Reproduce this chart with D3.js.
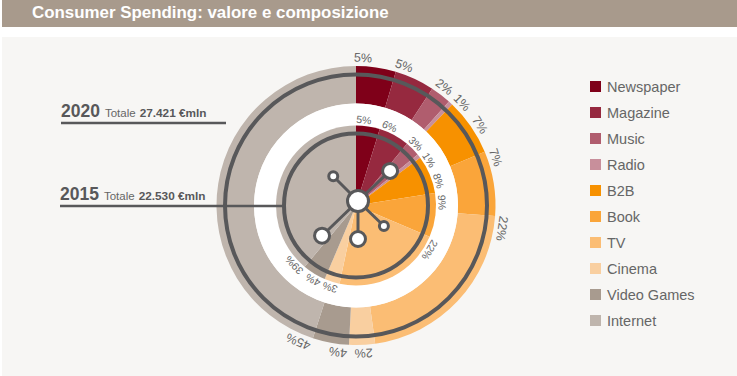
<!DOCTYPE html>
<html>
<head>
<meta charset="utf-8">
<script src="https://cdn.jsdelivr.net/npm/d3@7"></script>
<style>
html, body { margin: 0; padding: 0; background: #fff; }
svg { display: block; font-family: "Liberation Sans", Arial, sans-serif; }
</style>
</head>
<body>
<script>
//Width and height
var w = 737;
var h = 376;

//Data
var categories = ["Newspaper", "Magazine", "Music", "Radio", "B2B", "Book", "TV", "Cinema", "Video Games", "Internet"];
var colors = ["#7f0019", "#96293f", "#b05d6e", "#c88f9b", "#f79100", "#faa53a", "#fbbd74", "#f9cfa0", "#a89b8f", "#bfb5ad"];

//Slice sizes as drawn (they do not follow the printed labels exactly)
var share2020 = [4.6, 4.6, 2.4, 0.5, 6.6, 7.5, 21.6, 3.0, 4.2, 45];
var share2015 = [4.8, 6.2, 3.0, 0.8, 7.7, 8.9, 21.9, 3.1, 4.7, 38.9];

//Printed labels
var labels2020 = ["5%", "5%", "2%", "1%", "7%", "7%", "22%", "2%", "4%", "45%"];
var labels2015 = ["5%", "6%", "3%", "1%", "8%", "9%", "22%", "3%", "4%", "39%"];

//Where the labels sit around the circle, in degrees
var labelAngle2020 = [2.7, 19, 36.6, 45.8, 57, 71, 99, 177, 187, 203];
var labelAngle2015 = [5.3, 23, 44, 58, 73.4, 88, 121, 197.6, 210, 226];

//Spokes of the small hub in the middle
var hubAngle = [-45, 46.8, 134, 180, 226];
var hubDist = [35, 44, 36, 38, 50];
var hubSize = [6, 9, 6, 9, 9];

//Layout
var cx = 356;
var cy = 205.5;
var hubX = 358;
var hubY = 201;
var darkLine = "#58585a";
var textColor = "#666";

//Create SVG element
var svg = d3.select("body")
    .append("svg")
    .attr("width", w)
    .attr("height", h);

//Panel and title bar
svg.append("rect")
    .attr("x", 2).attr("y", 37)
    .attr("width", w - 2).attr("height", h - 37)
    .attr("fill", "#f7f6f4");

svg.append("rect")
    .attr("x", 2).attr("y", 0)
    .attr("width", w - 2).attr("height", 27)
    .attr("fill", "#a89a8c");

svg.append("text")
    .attr("x", 32).attr("y", 18)
    .attr("font-size", 16.9)
    .attr("font-weight", "bold")
    .attr("fill", "#fff")
    .text("Consumer Spending: valore e composizione");

var pie = d3.pie().sort(null).value(function(d) { return d; });

var chart = svg.append("g")
    .attr("transform", "translate(" + cx + "," + cy + ")");

//Outer ring (2020)
var outerArc = d3.arc().innerRadius(102).outerRadius(139.5);
chart.selectAll("path.outer")
    .data(pie(share2020))
    .enter()
    .append("path")
    .attr("class", "outer")
    .attr("d", outerArc)
    .attr("fill", function(d, i) { return colors[i]; });

//White disc between the two years
chart.append("circle").attr("r", 102).attr("fill", "#fff");

//Inner pie (2015)
var innerArc = d3.arc().innerRadius(0).outerRadius(80);
chart.selectAll("path.inner")
    .data(pie(share2015))
    .enter()
    .append("path")
    .attr("class", "inner")
    .attr("d", innerArc)
    .attr("fill", function(d, i) { return colors[i]; });

//Dark rings
[131, 72].forEach(function(r) {
    chart.append("circle")
        .attr("r", r)
        .attr("fill", "none")
        .attr("stroke", darkLine)
        .attr("stroke-width", 4);
});

//Labels around the circles
function drawLabels(labels, angles, radius, size) {
    chart.selectAll(null)
        .data(labels)
        .enter()
        .append("text")
        .attr("transform", function(d, i) {
            var a = angles[i] * Math.PI / 180;
            return "translate(" + (radius * Math.sin(a)) + "," + (-radius * Math.cos(a)) + ")rotate(" + angles[i] + ")";
        })
        .attr("text-anchor", "middle")
        .attr("dy", "0.35em")
        .attr("font-size", size)
        .attr("fill", textColor)
        .text(function(d) { return d; });
}
drawLabels(labels2020, labelAngle2020, 148, 12.5);
drawLabels(labels2015, labelAngle2015, 86, 10.5);

//Hub spokes and bubbles
var hub = svg.append("g")
    .attr("transform", "translate(" + hubX + "," + hubY + ")");

function tipX(i) { return hubDist[i] * Math.sin(hubAngle[i] * Math.PI / 180); }
function tipY(i) { return -hubDist[i] * Math.cos(hubAngle[i] * Math.PI / 180); }

hub.selectAll("line")
    .data(hubAngle)
    .enter()
    .append("line")
    .attr("x2", function(d, i) { return tipX(i); })
    .attr("y2", function(d, i) { return tipY(i); })
    .attr("stroke", darkLine)
    .attr("stroke-width", 3);

hub.selectAll("circle.tip")
    .data(hubSize)
    .enter()
    .append("circle")
    .attr("class", "tip")
    .attr("cx", function(d, i) { return tipX(i); })
    .attr("cy", function(d, i) { return tipY(i); })
    .attr("r", function(d) { return d - 1.5; })
    .attr("fill", "#fff")
    .attr("stroke", darkLine)
    .attr("stroke-width", 3);

hub.append("circle")
    .attr("r", 10.5)
    .attr("fill", "#fff")
    .attr("stroke", darkLine)
    .attr("stroke-width", 3);

//Year callouts on the left
function callout(year, total, x, y, x2) {
    svg.append("line")
        .attr("x1", x).attr("x2", x2)
        .attr("y1", y + 6).attr("y2", y + 6)
        .attr("stroke", darkLine)
        .attr("stroke-width", 2.5);

    var t = svg.append("text")
        .attr("x", x).attr("y", y)
        .attr("fill", darkLine);
    t.append("tspan").attr("font-size", 17.5).attr("font-weight", "bold").text(year);
    t.append("tspan").attr("dx", 5).attr("font-size", 11.5).attr("fill", textColor).text("Totale");
    t.append("tspan").attr("dx", 4).attr("font-size", 11.8).attr("font-weight", "bold").text(total + " €mln");
}
callout("2020", "27.421", 61, 117, 226);
callout("2015", "22.530", 60, 200, 285);

//Legend
var legendY = d3.scaleBand()
    .domain(categories)
    .range([81, 81 + 26 * categories.length]);

var legend = svg.selectAll("g.legend")
    .data(categories)
    .enter()
    .append("g")
    .attr("class", "legend")
    .attr("transform", function(d) { return "translate(590," + legendY(d) + ")"; });

legend.append("rect")
    .attr("width", 11)
    .attr("height", 11)
    .attr("fill", function(d, i) { return colors[i]; });

legend.append("text")
    .attr("x", 17)
    .attr("y", 11)
    .attr("font-size", 14.5)
    .attr("fill", textColor)
    .text(function(d) { return d; });
</script>
</body>
</html>
